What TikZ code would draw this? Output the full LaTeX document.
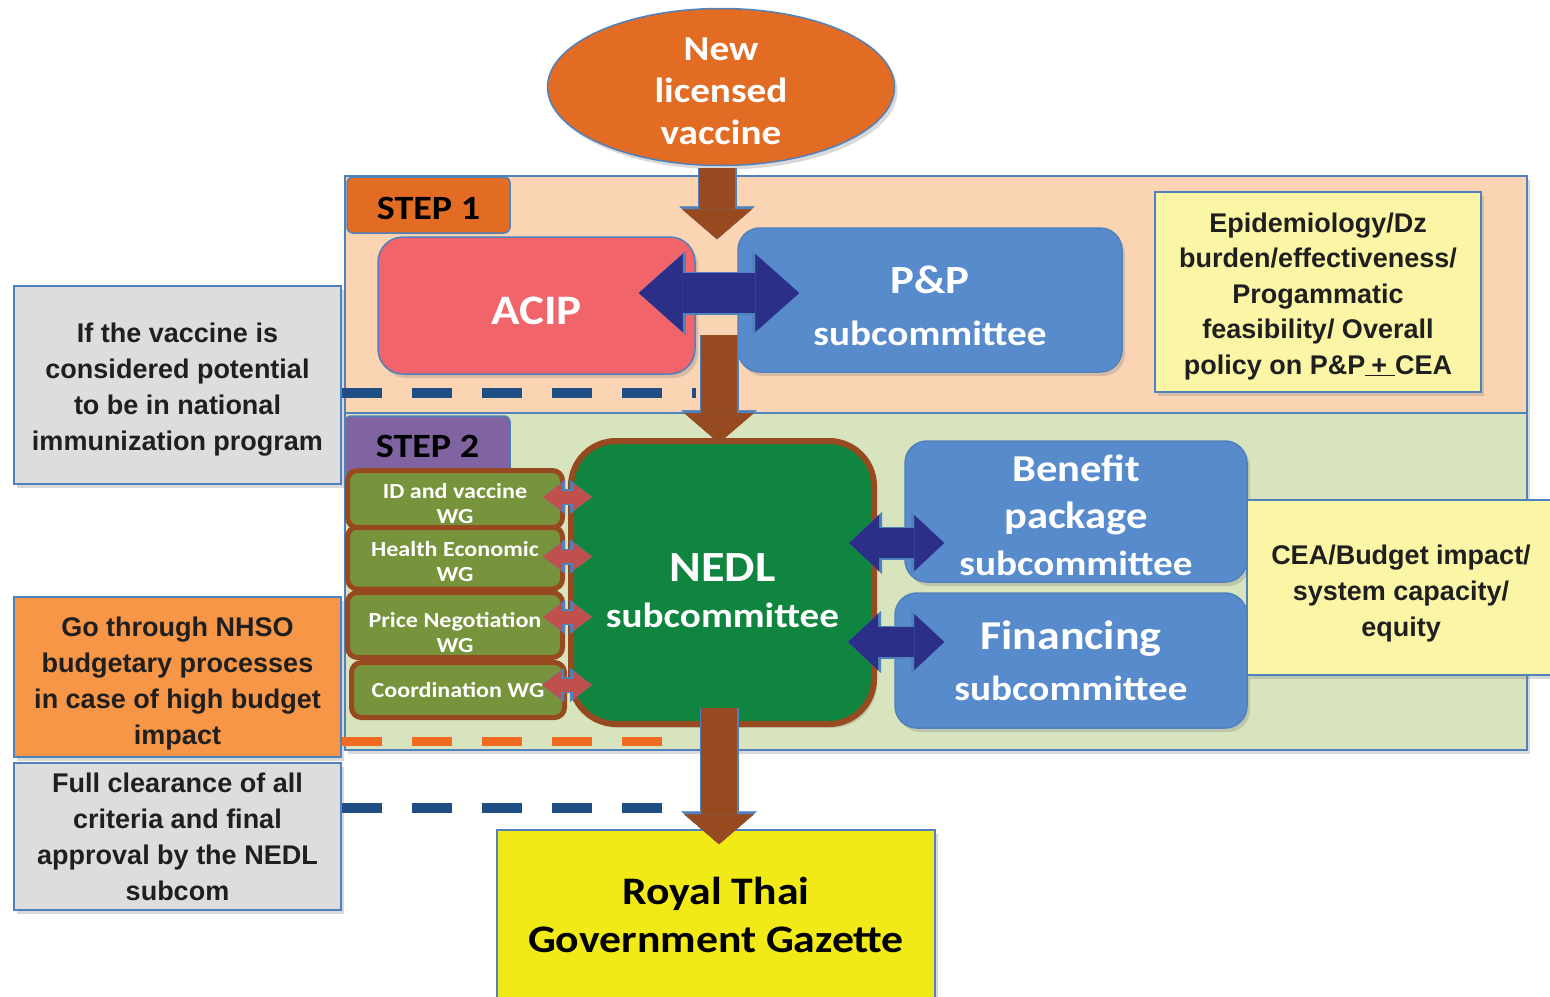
\documentclass[tikz,border=0pt]{standalone}
\usepackage{fontspec}
\setmainfont{Carlito}[FakeStretch=1.12]
\newfontfamily\notefont{Liberation Sans}
\usetikzlibrary{shapes.geometric,arrows.meta,calc,shadows}

\definecolor{peach}{RGB}{251,212,180}
\definecolor{sage}{RGB}{216,228,189}
\definecolor{edgeblue}{RGB}{79,129,189}
\definecolor{steporange}{RGB}{227,108,37}
\definecolor{steppurple}{RGB}{128,100,162}
\definecolor{acipred}{RGB}{240,100,106}
\definecolor{subblue}{RGB}{88,139,204}
\definecolor{navy}{RGB}{43,47,135}
\definecolor{arrbrown}{RGB}{151,74,32}
\definecolor{nedlgreen}{RGB}{15,133,63}
\definecolor{wggreen}{RGB}{119,147,60}
\definecolor{wgarrow}{RGB}{192,80,77}
\definecolor{noteyellow}{RGB}{251,246,166}
\definecolor{notegray}{RGB}{220,221,223}
\definecolor{noteorange}{RGB}{247,150,70}
\definecolor{gazyellow}{RGB}{242,234,22}
\definecolor{dashblue}{RGB}{31,78,133}
\definecolor{dashorange}{RGB}{242,107,33}

% stacked lines, drawn a little lower than the box centre
\newcommand\lowtext[2][4pt]{\raisebox{-#1}[\height][\depth]{\begin{tabular}{@{}c@{}}#2\end{tabular}}}

\tikzset{
  softshadow/.style={drop shadow={shadow xshift=3pt, shadow yshift=-4pt, opacity=0.3}},
  region/.style={draw=edgeblue, line width=1.5pt, softshadow},
  steplabel/.style={draw=edgeblue, line width=1.5pt, rounded corners=6pt, inner sep=0pt,
    text=black, font=\bfseries\fontsize{34}{40}\selectfont},
  subbox/.style={draw=edgeblue, line width=1.5pt, fill=subblue, rounded corners=22pt,
    text=white, inner sep=0pt, softshadow},
  wgbox/.style={draw=arrbrown, line width=5pt, fill=wggreen, rounded corners=10pt, minimum width=215pt,
    text=white, inner sep=0pt, font=\bfseries\fontsize{21.5}{25}\selectfont},
  note/.style={draw=edgeblue, line width=1.5pt, inner sep=0pt,
    text=black!88, font=\notefont\bfseries\fontsize{27}{36}\selectfont, softshadow},
  bluedash/.style={draw=dashblue, line width=10pt, dash pattern=on 40pt off 30pt},
  orangedash/.style={draw=dashorange, line width=9pt, dash pattern=on 40pt off 30pt},
  brownarrow/.style={draw=arrbrown, line width=36pt,
    -{Triangle[length=30pt,width=70pt,line width=0.5pt]},
    preaction={draw=edgeblue, line width=39pt,
      -{Triangle[length=33pt,width=76pt,line width=0.5pt]}}},
  navyarrow/.style={draw=navy, line width=40pt,
    {Triangle[length=44pt,width=78pt,line width=0.5pt]}-{Triangle[length=44pt,width=78pt,line width=0.5pt]},
    preaction={draw=edgeblue, line width=43pt,
      {Triangle[length=47pt,width=84pt,line width=0.5pt]}-{Triangle[length=47pt,width=84pt,line width=0.5pt]}}},
  navysmall/.style={draw=navy, line width=30pt,
    {Triangle[length=30pt,width=56pt,line width=0.5pt]}-{Triangle[length=30pt,width=56pt,line width=0.5pt]},
    preaction={draw=edgeblue, line width=33pt,
      {Triangle[length=33pt,width=62pt,line width=0.5pt]}-{Triangle[length=33pt,width=62pt,line width=0.5pt]}}},
  wgarrowstyle/.style={draw=wgarrow, line width=13pt,
    {Triangle[length=19pt,width=28pt,line width=0.5pt]}-{Triangle[length=19pt,width=28pt,line width=0.5pt]},
    preaction={draw=edgeblue, line width=16pt,
      {Triangle[length=22pt,width=34pt,line width=0.5pt]}-{Triangle[length=22pt,width=34pt,line width=0.5pt]}}}
}

\begin{document}
\begin{tikzpicture}[x=1pt,y=-1pt]
\useasboundingbox (0,0) rectangle (1550,996);
\clip (0,0) rectangle (1550,996);

% the two steps
\path[region, fill=peach] (345,176) rectangle (1527,413);
\path[region, fill=sage] (345,413) rectangle (1527,750);

% side notes
\node[note, fill=notegray, minimum width=327pt, minimum height=198pt] (ifnote) at (177.5,385)
  {\lowtext{If the vaccine is\\considered potential\\to be in national\\immunization program}};
\node[note, fill=noteorange, minimum width=327pt, minimum height=160pt] (budnote) at (177.5,677)
  {\lowtext[6pt]{Go through NHSO\\budgetary processes\\in case of high budget\\impact}};
\node[note, fill=notegray, minimum width=327pt, minimum height=147pt] (fullnote) at (177.5,836.5)
  {\lowtext[3pt]{Full clearance of all\\criteria and final\\approval by the NEDL\\subcom}};
\node[note, fill=noteyellow, minimum width=326pt, minimum height=200pt,
  font=\notefont\bfseries\fontsize{27}{35.5}\selectfont] (epinote) at (1318,292)
  {\lowtext{Epidemiology/Dz\\burden/effectiveness/\\Progammatic\\feasibility/ Overall\\policy on P\&P\underline{\hspace{6pt}+\hspace{8pt}}CEA}};

% step 1
\node[steplabel, fill=steporange, minimum width=163pt, minimum height=56pt] (step1) at (428.5,205) {\lowtext[6pt]{STEP 1}};
\node[draw=edgeblue, line width=1.5pt, fill=acipred, rounded corners=25pt, minimum width=317pt,
  minimum height=137pt, text=white, font=\bfseries\fontsize{42}{50}\selectfont, softshadow] (acip) at (536.5,305.5) {\lowtext[9pt]{ACIP}};
\node[subbox, minimum width=384pt, minimum height=144pt, font=\bfseries\fontsize{35}{52}\selectfont] (pp) at (930,300)
  {\lowtext[9pt]{{\fontsize{40}{52}\selectfont P\&P}\\subcommittee}};

\draw[bluedash] (ifnote.east |- 0,393) -- (acip.south east |- 0,393);

\node[ellipse, draw=edgeblue, line width=1.5pt, fill=steporange, minimum width=347pt, minimum height=157pt,
  inner xsep=0pt, inner ysep=-16pt, text=white, font=\bfseries\fontsize{35}{42}\selectfont, softshadow] (vac) at (721,87)
  {\lowtext[7pt]{New\\licensed\\vaccine}};

\draw[brownarrow] ($(vac.south)+(-4,2)$) -- ($(vac.south |- acip.north)+(-4,3)$);
\draw[navyarrow] ($(acip.east)+(-57,-12.5)$) -- ($(pp.west)+(62,-7)$);

% step 2
\node[steplabel, fill=steppurple, minimum width=165pt, minimum height=60pt] (step2) at (427.5,446) {\lowtext[3pt]{STEP 2}};
\draw[orangedash] (budnote.east |- 0,741) -- +(324,0);

\node[draw=arrbrown, line width=6pt, fill=nedlgreen, rounded corners=45pt, minimum width=303pt,
  minimum height=283pt, text=white, font=\bfseries\fontsize{35}{46}\selectfont, softshadow] (nedl) at (722.5,582.5)
  {\lowtext[13pt]{{\fontsize{43}{46}\selectfont NEDL}\\subcommittee}};
\draw[brownarrow] ($(acip.east)!0.5!(pp.west)+(2.5,32)$) -- ($(nedl.north)+(-3.5,5)$);

\node[wgbox, minimum height=62pt] (health) at (455,558) {\lowtext[6pt]{Health Economic\\WG}};
\node[wgbox, minimum height=57pt] (idwg) at (455,499) {\lowtext[6.5pt]{ID and vaccine\\WG}};
\node[wgbox, minimum height=65pt] (price) at (455,625) {\lowtext[10pt]{Price Negotiation\\WG}};
\node[wgbox, minimum width=213pt, minimum height=55pt] (coord) at (458,690) {\lowtext[2pt]{Coordination WG}};

\draw[wgarrowstyle] ($(idwg.east)+(-22,-2)$) -- ($(idwg.east -| nedl.west)+(24,-2)$);
\draw[wgarrowstyle] ($(health.east)+(-22,-1.5)$) -- ($(health.east -| nedl.west)+(24,-1.5)$);
\draw[wgarrowstyle] ($(price.east)+(-22,-8)$) -- ($(price.east -| nedl.west)+(24,-8)$);
\draw[wgarrowstyle] ($(coord.east)+(-25,-5)$) -- ($(coord.east -| nedl.west)+(24,-5)$);

\node[subbox, minimum width=342pt, minimum height=141pt, font=\bfseries\fontsize{38}{47}\selectfont] (ben) at (1076,511.5)
  {\lowtext[8pt]{Benefit\\package\\{\fontsize{35}{47}\selectfont subcommittee}}};
\node[subbox, minimum width=352pt, minimum height=135pt, font=\bfseries\fontsize{35}{51}\selectfont] (fin) at (1071,660.5)
  {\lowtext[4pt]{{\fontsize{41}{51}\selectfont Financing}\\subcommittee}};

\draw[navysmall] ($(nedl.east)+(-28,-39.5)$) -- ($(ben.west)+(40,31.5)$);
\draw[navysmall] ($(nedl.east)+(-29,59.5)$) -- ($(fin.west)+(50,-18.5)$);

\node[note, fill=noteyellow, minimum width=308pt, minimum height=175pt] (ceanote) at (1401,587.5)
  {\lowtext[6pt]{CEA/Budget impact/\\system capacity/\\equity}};

% final step
\draw[bluedash] (fullnote.east |- 0,808) -- +(324,0);
\node[draw=edgeblue, line width=1.5pt, fill=gazyellow, minimum width=438pt, minimum height=170pt,
  text=black, font=\bfseries\fontsize{39}{48}\selectfont, softshadow] (gaz) at (716,915)
  {\lowtext[4pt]{Royal Thai\\Government Gazette}};
\draw[brownarrow] ($(nedl.south)+(-3.5,-19)$) -- ($(gaz.north)+(3,15)$);
\end{tikzpicture}
\end{document}
